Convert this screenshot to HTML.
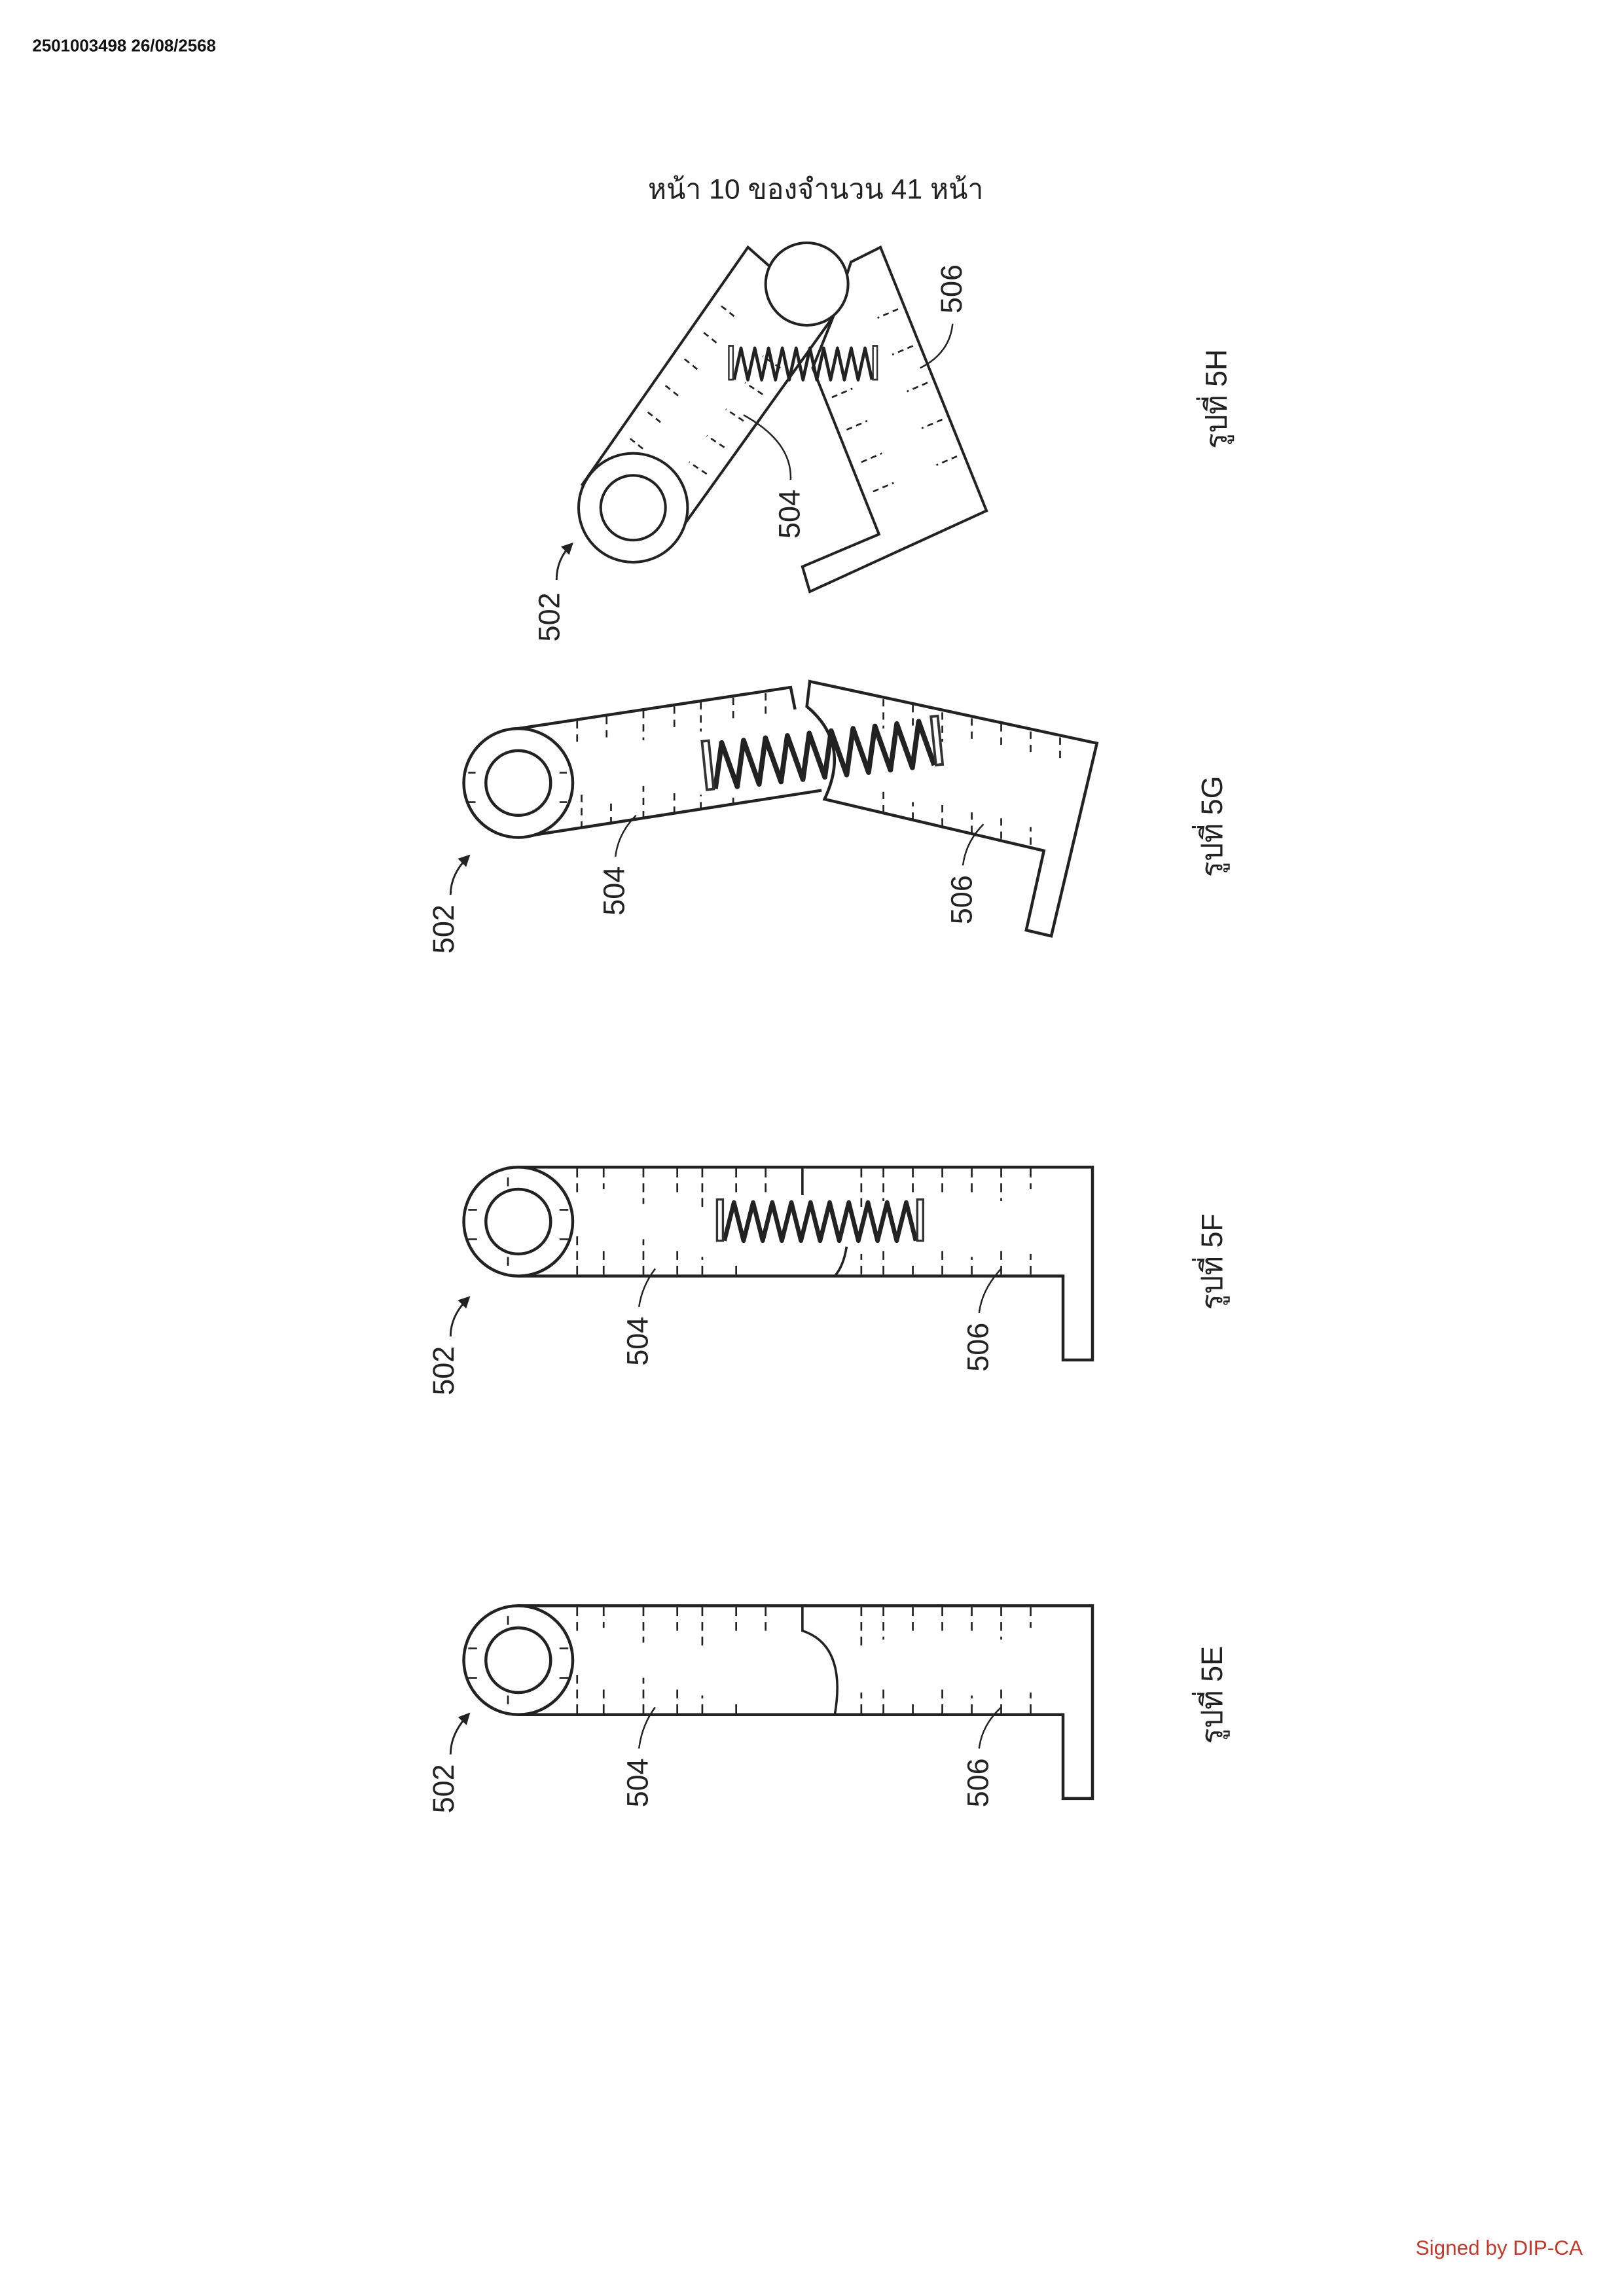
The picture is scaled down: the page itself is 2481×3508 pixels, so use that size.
<!DOCTYPE html>
<html><head><meta charset="utf-8">
<style>
html,body{margin:0;padding:0;background:#fff;}
svg{display:block;}
text{font-family:"Liberation Sans","Noto Sans CJK SC",sans-serif;}
</style></head>
<body>
<svg width="2481" height="3508" viewBox="0 0 1103 1560" preserveAspectRatio="none" xmlns="http://www.w3.org/2000/svg">
<defs>
<marker id="ah" markerWidth="8" markerHeight="8" refX="6" refY="4" orient="auto" markerUnits="userSpaceOnUse">
<path d="M0,0 L8,4 L0,8 Z" fill="#222"/>
</marker>
<g id="spring">
<polyline fill="none" stroke="#222" stroke-width="3" stroke-linejoin="round" points="492,843 498.5,817 505,843 511.5,817 518,843 524.5,817 531,843 537.5,817 544,843 550.5,817 557,843 563.5,817 570,843 576.5,817 583,843 589.5,817 596,843 602.5,817 609,843 615.5,817 622,843"/>
<rect x="487" y="815" width="4" height="28" fill="#fff" stroke="#333" stroke-width="1.5"/>
<rect x="623" y="815" width="4" height="28" fill="#fff" stroke="#333" stroke-width="1.5"/>
</g>
<g id="straight" fill="none" stroke="#222" stroke-width="2">
<path d="M352,1091 L742,1091 L742,1222 L722,1222 L722,1165 L352,1165"/>
<circle cx="352" cy="1128" r="37" fill="#fff"/>
<circle cx="352" cy="1128" r="22"/>
<g stroke-width="1.2" stroke-dasharray="6,4">
<path d="M392,1092 v20 M410,1092 v14 M437,1092 v24 M460,1092 v18 M477,1092 v26 M500,1092 v20 M520,1092 v16 M585,1092 v26 M600,1092 v22 M620,1092 v18 M640,1092 v20 M660,1092 v16 M680,1092 v22 M700,1092 v14"/>
<path d="M392,1164 v-30 M410,1164 v-20 M437,1164 v-24 M460,1164 v-16 M477,1164 v-12 M500,1164 v-8 M585,1164 v-14 M600,1164 v-18 M620,1164 v-10 M640,1164 v-16 M660,1164 v-12 M680,1164 v-18 M700,1164 v-14"/>
<path d="M318,1120 h6 M318,1140 h6 M380,1120 h6 M380,1140 h6 M345,1098 v6 M345,1152 v6"/>
</g>
</g>
</defs>

<text x="22" y="35" font-size="11.5" font-weight="bold" fill="#111">2501003498 26/08/2568</text>
<text x="554" y="135" font-size="19" text-anchor="middle" fill="#222">หน้า 10 ของจำนวน 41 หน้า</text>
<text x="1075" y="1532" font-size="14" text-anchor="end" fill="#c0392b">Signed by DIP-CA</text>

<!-- 5E -->
<use href="#straight"/>
<path d="M545,1091 L545,1108 Q575,1118 567,1165" fill="none" stroke="#222" stroke-width="1.6"/>
<text transform="translate(308,1232) rotate(-90)" font-size="20" fill="#222">502</text>
<path d="M306,1192 Q306,1178 318,1165" fill="none" stroke="#222" stroke-width="1.3" marker-end="url(#ah)"/>
<text transform="translate(440,1228) rotate(-90)" font-size="20" fill="#222">504</text>
<path d="M434,1188 Q436,1172 445,1160" fill="none" stroke="#222" stroke-width="1.1"/>
<text transform="translate(671,1228) rotate(-90)" font-size="20" fill="#222">506</text>
<path d="M665,1188 Q667,1172 680,1160" fill="none" stroke="#222" stroke-width="1.1"/>
<text transform="translate(830,1185) rotate(-90)" font-size="20" fill="#222">รูปที่ 5E</text>

<!-- 5F -->
<g transform="translate(0,-298)">
<use href="#straight"/>
<path d="M545,1091 L545,1110" fill="none" stroke="#222" stroke-width="1.6"/>
<path d="M575,1145 Q573,1158 567,1165" fill="none" stroke="#222" stroke-width="1.6"/>
</g>
<use href="#spring"/>
<text transform="translate(308,948) rotate(-90)" font-size="20" fill="#222">502</text>
<path d="M306,908 Q306,894 318,882" fill="none" stroke="#222" stroke-width="1.3" marker-end="url(#ah)"/>
<text transform="translate(440,928) rotate(-90)" font-size="20" fill="#222">504</text>
<path d="M434,888 Q436,874 445,862" fill="none" stroke="#222" stroke-width="1.1"/>
<text transform="translate(671,932) rotate(-90)" font-size="20" fill="#222">506</text>
<path d="M665,892 Q667,876 680,862" fill="none" stroke="#222" stroke-width="1.1"/>
<text transform="translate(830,890) rotate(-90)" font-size="20" fill="#222">รูปที่ 5F</text>

<!-- 5G -->
<g fill="none" stroke="#222" stroke-width="2">
<path d="M352,495 L537,467 L540,482"/>
<path d="M352,569 L558,537"/>
<path d="M550,463 L745,505 L714,636 L697,632 L709,578 L560,543 Q578,505 548,480 Z" fill="#fff"/>
<circle cx="352" cy="532" r="37" fill="#fff"/>
<circle cx="352" cy="532" r="22"/>
<g stroke-width="1.2" stroke-dasharray="5,4">
<path d="M392,490 v18 M412,487 v14 M437,483 v20 M458,480 v16 M476,477 v20 M498,474 v14 M520,471 v16"/>
<path d="M395,563 v-26 M415,560 v-16 M437,556 v-22 M458,553 v-14 M476,550 v-10 M498,547 v-8"/>
<path d="M600,475 v20 M620,479 v16 M640,484 v20 M660,488 v14 M680,492 v18 M700,497 v14 M720,501 v16"/>
<path d="M600,552 v-16 M620,557 v-12 M640,561 v-18 M660,566 v-14 M680,570 v-18 M700,574 v-12"/>
<path d="M318,525 h6 M318,545 h6 M380,525 h6 M380,545 h6"/>
</g>
</g>
<g transform="translate(478,495) scale(1.15,1.18) translate(-487,-815) rotate(-6,557,829)"><use href="#spring"/></g>
<text transform="translate(308,648) rotate(-90)" font-size="20" fill="#222">502</text>
<path d="M306,608 Q306,594 318,582" fill="none" stroke="#222" stroke-width="1.3" marker-end="url(#ah)"/>
<text transform="translate(424,622) rotate(-90)" font-size="20" fill="#222">504</text>
<path d="M418,582 Q420,566 432,554" fill="none" stroke="#222" stroke-width="1.1"/>
<text transform="translate(660,628) rotate(-90)" font-size="20" fill="#222">506</text>
<path d="M654,588 Q656,572 668,560" fill="none" stroke="#222" stroke-width="1.1"/>
<text transform="translate(830,596) rotate(-90)" font-size="20" fill="#222">รูปที่ 5G</text>

<!-- 5H -->
<g fill="none" stroke="#222" stroke-width="1.8">
<path d="M598,168 L670,347 L550,402 L545,385 L597,363 L552,250 L566,215 L578,178 Z" fill="#fff"/>
<path d="M395,330 L508,168 L525,183"/>
<path d="M455,370 L566,215"/>
<circle cx="548" cy="193" r="28" fill="#fff"/>
<circle cx="430" cy="345" r="37" fill="#fff"/>
<circle cx="430" cy="345" r="22"/>
<g stroke-width="1.2" stroke-dasharray="4,3">
<path d="M490,208 l10,8 M478,226 l10,8 M465,244 l10,8 M452,262 l10,8 M440,280 l10,8 M428,298 l10,8"/>
<path d="M530,250 l-12,-8 M518,268 l-12,-8 M505,286 l-12,-8 M492,304 l-12,-8 M480,322 l-12,-8"/>
<path d="M610,210 l-14,6 M620,235 l-14,6 M630,260 l-14,6 M640,285 l-14,6 M650,310 l-14,6"/>
<path d="M565,270 l14,-6 M575,292 l14,-6 M585,314 l14,-6 M593,334 l14,-6"/>
</g>
</g>
<g transform="translate(495,235) scale(0.72,0.82) translate(-487,-815)"><use href="#spring"/></g>
<text transform="translate(380,436) rotate(-90)" font-size="20" fill="#222">502</text>
<path d="M378,394 Q378,380 388,370" fill="none" stroke="#222" stroke-width="1.3" marker-end="url(#ah)"/>
<text transform="translate(543,366) rotate(-90)" font-size="20" fill="#222">504</text>
<path d="M537,326 Q538,300 505,282" fill="none" stroke="#222" stroke-width="1.1"/>
<text transform="translate(653,213) rotate(-90)" font-size="20" fill="#222">506</text>
<path d="M647,220 Q645,240 625,250" fill="none" stroke="#222" stroke-width="1.1"/>
<text transform="translate(833,305) rotate(-90)" font-size="20" fill="#222">รูปที่ 5H</text>
</svg>
</body></html>
